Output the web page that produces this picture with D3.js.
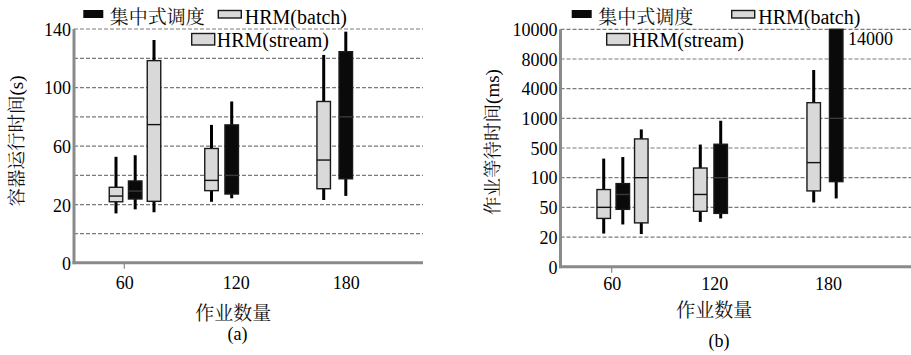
<!DOCTYPE html>
<html><head><meta charset="utf-8">
<script src="https://cdn.jsdelivr.net/npm/d3@7"></script>
<style>
body{margin:0;background:#fff}
</style></head>
<body><svg id="c" width="911" height="355"></svg>
<script>
// ---------- data ----------
const seriesNames = ["集中式调度", "HRM(batch)", "HRM(stream)"];
const xCategories = [60, 120, 180];
const xTickMarks = [60];

// box order: (60,batch) (60,central) (60,stream) (120,batch) (120,central) (180,batch) (180,central)
const boxGroup  = [60, 60, 60, 120, 120, 180, 180];
const boxSeries = ["HRM(batch)", "集中式调度", "HRM(stream)", "HRM(batch)", "集中式调度", "HRM(batch)", "集中式调度"];

// (a) 容器运行时间 (s)
const runMin = [17, 18.4, 17.4, 22, 24.4, 23.2, 26];
const runQ1  = [22, 23.9, 22.3, 29.6, 27.3, 30.9, 37.7];
const runMed = [25.9, 29.3, 74.7, 36.6, 40, 50.5, 80];
const runQ3  = [31.9, 36.2, 118.4, 58.4, 74.5, 90.5, 124.5];
const runMax = [52.7, 53.8, 132.5, 74.5, 90.5, 122.3, 138.2];
const runTickLabels = [0, 20, 60, 100, 140];
const runGrid = [10, 20, 40, 60, 80, 100, 120, 140];

// (b) 作业等待时间 (ms)
const waitMin = [23.5, 32.7, 23, 35.3, 38.8, 58.3, 65];
const waitQ1  = [38.8, 48, 34.3, 46, 43.9, 77.7, 93.3];
const waitMed = [50, 71.7, 100, 71.7, 100, 303, 1000];
const waitQ3  = [80, 90, 653, 230, 563, 2581, 14000];
const waitMax = [357, 378, 813, 558, 959, 6518, 14000];
const waitTickLabels = [0, 20, 50, 100, 500, 1000, 4000, 8000, 10000];
const waitNote = "14000";

// ---------- drawing ----------
const SERIF = "Liberation Serif";
const CJK = "Noto Serif CJK SC";
const svg = d3.select("#c");
const fillOf = s => s === "集中式调度" ? "#0a0a0a" : "#d9d9d9";
const BW = 13.5;

function serifText(sel, size) {
  return sel.attr("font-family", SERIF).attr("font-size", size).attr("fill", "#000");
}
function cjkText(sel, size) {
  return sel.attr("font-family", CJK).attr("font-size", size).attr("fill", "#111");
}

function panel(cfg) {
  const g = svg.append("g");
  const y = cfg.y;
  const x = cfg.x;
  // grid
  g.selectAll(".grid").data(cfg.grid).join("line")
    .attr("x1", cfg.left).attr("x2", cfg.right)
    .attr("y1", d => y(d)).attr("y2", d => y(d))
    .attr("stroke", "#7a7a7a").attr("stroke-width", 1.2).attr("stroke-dasharray", "4,2");
  // y tick labels via axis
  const ya = d3.axisLeft(y).tickValues(cfg.ticks).tickSize(0).tickPadding(0)
      .tickFormat(d3.format("d"));
  const yg = g.append("g").attr("transform", `translate(${cfg.left - 3},0)`).call(ya);
  yg.select(".domain").remove();
  yg.attr("font-family", SERIF).attr("font-size", 18);
  serifText(yg.selectAll("text"), 18).attr("dy", "0.35em");
  // x axis labels
  const xa = d3.axisBottom(x).tickValues(cfg.cats).tickSize(0).tickPadding(0);
  const xg = g.append("g").attr("transform", `translate(0,${cfg.labelY})`).call(xa);
  xg.select(".domain").remove();
  xg.attr("font-family", SERIF).attr("font-size", 18);
  serifText(xg.selectAll("text"), 18).attr("dy", 0);
  // boxes
  const data = boxGroup.map((gr, i) => ({
    gr, s: boxSeries[i], min: cfg.min[i], q1: cfg.q1[i], med: cfg.med[i], q3: cfg.q3[i], max: cfg.max[i],
    cx: x(gr) + cfg.off[gr][boxSeries.slice(0, i).filter((_, j) => boxGroup[j] === gr).length]
  }));
  const top = y.range()[y.range().length - 1];
  const clampY = v => Math.max(top, y(v));
  const bx = g.selectAll(".box").data(data).join("g");
  bx.append("line").attr("x1", d => d.cx).attr("x2", d => d.cx)
    .attr("y1", d => clampY(d.max)).attr("y2", d => y(d.min))
    .attr("stroke", "#000").attr("stroke-width", 3);
  bx.append("rect").attr("x", d => d.cx - BW / 2).attr("width", BW)
    .attr("y", d => clampY(d.q3)).attr("height", d => y(d.q1) - clampY(d.q3))
    .attr("fill", d => fillOf(d.s)).attr("stroke", "#1a1a1a").attr("stroke-width", 1.4);
  bx.append("line").attr("x1", d => d.cx - BW / 2).attr("x2", d => d.cx + BW / 2)
    .attr("y1", d => y(d.med)).attr("y2", d => y(d.med))
    .attr("stroke", d => d.s === "集中式调度" ? "#3a3a3a" : "#111").attr("stroke-width", 1.4);
  // axes lines
  g.append("line").attr("x1", cfg.left).attr("x2", cfg.left).attr("y1", top).attr("y2", y(0) + 1.5)
    .attr("stroke", "#8a8a8a").attr("stroke-width", 3);
  g.append("line").attr("x1", cfg.left - 1.5).attr("x2", cfg.right).attr("y1", y(0)).attr("y2", y(0))
    .attr("stroke", "#8a8a8a").attr("stroke-width", 3);
  g.selectAll(".xt").data(xTickMarks).join("line")
    .attr("x1", d => x(d)).attr("x2", d => x(d)).attr("y1", y(0)).attr("y2", y(0) + 6)
    .attr("stroke", "#8a8a8a").attr("stroke-width", 1.2);
  // axis titles
  cjkText(g.append("text"), 19).attr("text-anchor", "middle")
    .attr("x", cfg.xTitle[0]).attr("y", cfg.xTitle[1]).text("作业数量");
  serifText(g.append("text"), 18).attr("text-anchor", "middle")
    .attr("x", cfg.sub[0]).attr("y", cfg.sub[1]).text(cfg.subText);
  const yt = g.append("text").attr("text-anchor", "middle").attr("dy", "0.36em")
    .attr("font-size", 19)
    .attr("transform", `translate(${cfg.yTitle[0]},${cfg.yTitle[1]}) rotate(-90)`);
  cjkText(yt.append("tspan"), 18.5).text(cfg.yTitleText[0]);
  serifText(yt.append("tspan"), 19).text(cfg.yTitleText[1]);
  // legend
  const L = cfg.legend;
  g.append("rect").attr("x", L.blackX).attr("y", 10).attr("width", 20).attr("height", 8).attr("fill", "#0a0a0a");
  cjkText(g.append("text"), 19).attr("x", L.blackX + 26.5).attr("y", 24).text(seriesNames[0]);
  g.append("rect").attr("x", L.batchX).attr("y", 10.5).attr("width", 23).attr("height", 7.5)
    .attr("fill", "#d9d9d9").attr("stroke", "#1a1a1a").attr("stroke-width", 1.4);
  serifText(g.append("text"), 20).attr("x", L.batchX + 26.5).attr("y", 23.5).text(seriesNames[1]);
  g.append("rect").attr("x", L.streamX).attr("y", 33.5).attr("width", 23).attr("height", 11.5)
    .attr("fill", "#d9d9d9").attr("stroke", "#1a1a1a").attr("stroke-width", 1.4);
  serifText(g.append("text"), 20).attr("x", L.streamX + 25).attr("y", 46.5).text(seriesNames[2]);
  return g;
}

// (a)
const yA = d3.scaleLinear().domain([0, 20, 140]).range([262.7, 204.7, 29]);
const xA = d3.scaleLinear().domain([60, 120, 180]).range([124.3, 235.8, 345.7]);
panel({
  x: xA, y: yA, left: 74, right: 423, grid: runGrid, ticks: runTickLabels, cats: xCategories,
  labelY: 289, min: runMin, q1: runQ1, med: runMed, q3: runQ3, max: runMax,
  off: {60: [-8.3, 10.9, 29.7], 120: [-24.3, -4.1], 180: [-22, 0.1]},
  xTitle: [233.3, 320], sub: [237.5, 340], subText: "(a)",
  yTitle: [16, 141], yTitleText: ["容器运行时间", "(s)"],
  legend: {blackX: 83.3, batchX: 218.3, streamX: 191.7}
});

// (b)
const yB = d3.scaleLinear().domain(waitTickLabels)
  .range(waitTickLabels.map((_, i) => 266.7 - i * (266.7 - 29.3) / (waitTickLabels.length - 1)));
const xB = d3.scaleLinear().domain([60, 120, 180]).range([611.7, 714.2, 828]);
const gB = panel({
  x: xB, y: yB, left: 560.5, right: 911, grid: waitTickLabels.slice(1), ticks: waitTickLabels, cats: xCategories,
  labelY: 290, min: waitMin, q1: waitQ1, med: waitMed, q3: waitQ3, max: waitMax,
  off: {60: [-8, 11.1, 29.6], 120: [-13.9, 6.5], 180: [-14.3, 8.2]},
  xTitle: [714.2, 317], sub: [719, 347], subText: "(b)",
  yTitle: [492, 142], yTitleText: ["作业等待时间", "(ms)"],
  legend: {blackX: 571.7, batchX: 731.7, streamX: 606.7}
});
serifText(gB.append("text"), 18)
  .attr("x", xB(180) + 20).attr("y", 45).text(waitNote);
</script></body></html>
